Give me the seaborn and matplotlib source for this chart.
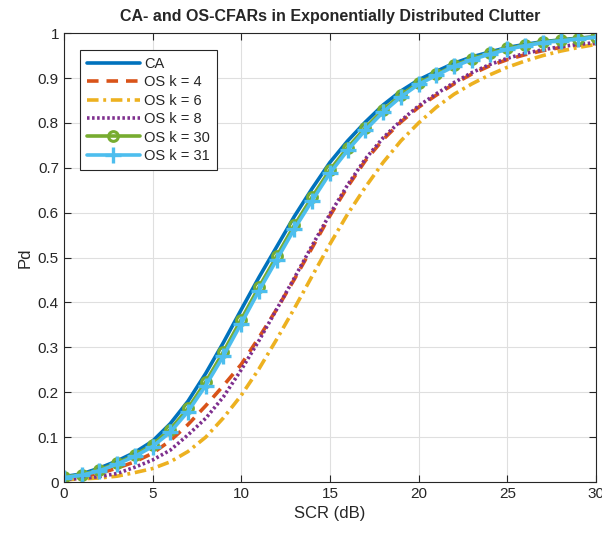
import numpy as np
import pandas as pd
import seaborn as sns
import matplotlib
matplotlib.use("Agg")
import matplotlib.pyplot as plt

# SCR 网格 (dB)
scr_db = list(range(0, 31))

pd_ca = [0.012, 0.018, 0.031, 0.047, 0.066, 0.091, 0.130, 0.180, 0.242, 0.311,
         0.384, 0.456, 0.524, 0.592, 0.654, 0.712, 0.760, 0.802, 0.840, 0.871,
         0.896, 0.915, 0.933, 0.947, 0.958, 0.968, 0.975, 0.981, 0.985, 0.989, 0.992]
pd_os4 = [0.008, 0.011, 0.019, 0.031, 0.045, 0.064, 0.092, 0.128, 0.170, 0.215,
          0.262, 0.322, 0.385, 0.452, 0.522, 0.593, 0.658, 0.716, 0.763, 0.802,
          0.835, 0.862, 0.887, 0.909, 0.927, 0.941, 0.952, 0.961, 0.968, 0.973, 0.977]
pd_os6 = [0.005, 0.007, 0.009, 0.013, 0.021, 0.030, 0.045, 0.068, 0.100, 0.143,
          0.193, 0.252, 0.318, 0.387, 0.459, 0.530, 0.597, 0.657, 0.712, 0.760,
          0.800, 0.835, 0.864, 0.887, 0.907, 0.924, 0.938, 0.950, 0.960, 0.968, 0.975]
pd_os8 = [0.006, 0.008, 0.012, 0.019, 0.033, 0.049, 0.071, 0.105, 0.142, 0.190,
          0.250, 0.315, 0.385, 0.455, 0.527, 0.597, 0.662, 0.720, 0.767, 0.805,
          0.838, 0.865, 0.890, 0.912, 0.930, 0.944, 0.955, 0.963, 0.970, 0.975, 0.979]
pd_os30 = [0.011, 0.016, 0.027, 0.042, 0.060, 0.083, 0.117, 0.164, 0.223, 0.290,
           0.362, 0.434, 0.503, 0.572, 0.635, 0.695, 0.745, 0.789, 0.829, 0.862,
           0.889, 0.908, 0.928, 0.943, 0.955, 0.966, 0.973, 0.980, 0.984, 0.988, 0.992]
pd_os31 = [0.010, 0.015, 0.025, 0.040, 0.057, 0.079, 0.111, 0.157, 0.215, 0.281,
           0.353, 0.426, 0.495, 0.564, 0.627, 0.688, 0.739, 0.784, 0.824, 0.858,
           0.886, 0.906, 0.926, 0.941, 0.953, 0.964, 0.972, 0.979, 0.983, 0.987, 0.991]

series = [
    ("CA", pd_ca, "#0072BD", "-", None),
    ("OS k = 4", pd_os4, "#D95319", (0, (3.2, 2.2)), None),
    ("OS k = 6", pd_os6, "#EDB120", (0, (3.2, 1.3, 0.8, 1.3)), None),
    ("OS k = 8", pd_os8, "#7E2F8E", (0, (0.7, 0.7)), None),
    ("OS k = 30", pd_os30, "#77AC30", "-", "o"),
    ("OS k = 31", pd_os31, "#4DBEEE", "-", "+"),
]

sns.set_style("ticks")
plt.rcParams["font.family"] = ["Liberation Sans", "DejaVu Sans"]

fig = plt.figure(figsize=(6.02, 5.35), dpi=100)
ax = fig.add_axes([0.106, 0.099, 0.884, 0.839])

for name, vals, color, ls, mk in series:
    df = pd.DataFrame({"SCR": scr_db, "Pd": vals})
    kw = {}
    if mk == "o":
        kw = dict(marker="o", markersize=7, markerfacecolor="none",
                  markeredgecolor=color, markeredgewidth=2.2)
    elif mk == "+":
        kw = dict(marker="+", markersize=12, markeredgecolor=color,
                  markeredgewidth=2.4)
    sns.lineplot(data=df, x="SCR", y="Pd", ax=ax, color=color, linestyle=ls,
                 linewidth=2.6, label=name, **kw)

ax.set_xlim(0, 30)
ax.set_ylim(0, 1)
ax.set_xticks(np.arange(0, 31, 5))
ax.set_yticks(np.arange(0, 1.01, 0.1))
ax.set_yticklabels(["0", "0.1", "0.2", "0.3", "0.4", "0.5", "0.6", "0.7", "0.8", "0.9", "1"])
ax.grid(True, color="#dfdfdf", linewidth=0.8)
ax.tick_params(direction="in", top=True, right=True, length=5, width=0.8,
               labelsize=11, colors="#262626")
for sp in ax.spines.values():
    sp.set_color("#262626")
    sp.set_linewidth(0.8)

ax.set_xlabel("SCR (dB)", fontsize=12, color="#262626")
ax.set_ylabel("Pd", fontsize=12, color="#262626")
ax.set_title("CA- and OS-CFARs in Exponentially Distributed Clutter",
             fontsize=11.5, fontweight="bold", pad=9)

leg = ax.legend(loc="upper left", bbox_to_anchor=(0.03, 0.963), borderaxespad=0,
                fontsize=10.5, handlelength=3.6, handletextpad=0.3,
                labelspacing=0.3, borderpad=0.5, fancybox=False, framealpha=1,
                edgecolor="#262626")
leg.get_frame().set_linewidth(0.8)

fig.savefig("out.png", dpi=100)
